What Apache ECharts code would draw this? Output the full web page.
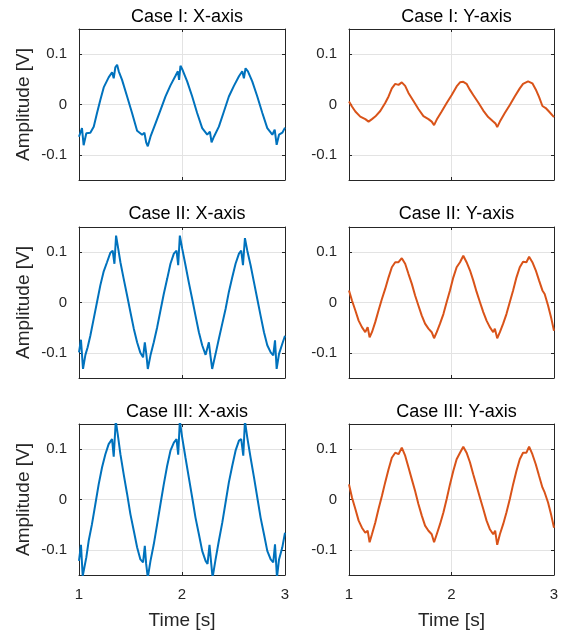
<!DOCTYPE html>
<html>
<head>
<meta charset="utf-8">
<script src="https://cdn.jsdelivr.net/npm/echarts@6/dist/echarts.min.js"></script>
<style>
html,body{margin:0;padding:0;background:#fff;}
#chart{width:565px;height:633px;}
</style>
</head>
<body>
<div id="chart"></div>
<script>
// ---- data: [time (s), amplitude (V)] ----
const titles = ['Case I: X-axis','Case I: Y-axis','Case II: X-axis','Case II: Y-axis','Case III: X-axis','Case III: Y-axis'];
const xTicks = [1, 2, 3];
const yTicks = [-0.1, 0, 0.1];

const case1X = [[1.000,-0.064],[1.029,-0.047],[1.045,-0.081],[1.071,-0.057],[1.110,-0.056],[1.143,-0.044],[1.175,-0.017],[1.207,0.009],[1.240,0.034],[1.288,0.054],[1.321,0.064],[1.337,0.052],[1.353,0.074],[1.370,0.079],[1.386,0.066],[1.418,0.049],[1.467,0.016],[1.515,-0.017],[1.564,-0.052],[1.613,-0.060],[1.635,-0.056],[1.652,-0.075],[1.668,-0.083],[1.694,-0.064],[1.742,-0.038],[1.791,-0.011],[1.840,0.016],[1.888,0.038],[1.937,0.057],[1.960,0.066],[1.972,0.049],[1.985,0.077],[2.005,0.069],[2.050,0.046],[2.099,0.016],[2.147,-0.017],[2.196,-0.047],[2.245,-0.060],[2.271,-0.054],[2.287,-0.075],[2.310,-0.064],[2.358,-0.044],[2.407,-0.014],[2.455,0.016],[2.504,0.037],[2.553,0.056],[2.585,0.066],[2.601,0.052],[2.617,0.072],[2.640,0.066],[2.682,0.046],[2.731,0.016],[2.780,-0.017],[2.828,-0.047],[2.877,-0.060],[2.900,-0.050],[2.919,-0.080],[2.942,-0.060],[2.974,-0.056],[3.000,-0.046]];

const case1Y = [[1.000,0.006],[1.029,-0.004],[1.062,-0.014],[1.110,-0.024],[1.159,-0.029],[1.191,-0.034],[1.224,-0.029],[1.256,-0.024],[1.305,-0.013],[1.353,0.003],[1.386,0.016],[1.418,0.032],[1.451,0.041],[1.483,0.039],[1.515,0.044],[1.548,0.037],[1.580,0.023],[1.629,0.007],[1.677,-0.009],[1.726,-0.023],[1.775,-0.029],[1.807,-0.034],[1.830,-0.041],[1.856,-0.030],[1.904,-0.014],[1.953,0.003],[2.002,0.019],[2.050,0.036],[2.083,0.044],[2.115,0.045],[2.147,0.041],[2.180,0.029],[2.212,0.019],[2.261,0.004],[2.310,-0.012],[2.358,-0.025],[2.407,-0.034],[2.430,-0.038],[2.446,-0.045],[2.472,-0.034],[2.520,-0.017],[2.569,-0.001],[2.617,0.016],[2.666,0.032],[2.698,0.041],[2.747,0.046],[2.789,0.042],[2.822,0.030],[2.854,0.015],[2.887,-0.003],[2.919,-0.007],[2.951,-0.014],[3.000,-0.025]];

const case2X = [[1.000,-0.099],[1.019,-0.074],[1.039,-0.132],[1.062,-0.104],[1.084,-0.089],[1.110,-0.066],[1.143,-0.032],[1.175,0.001],[1.207,0.034],[1.240,0.062],[1.272,0.080],[1.305,0.099],[1.327,0.103],[1.344,0.077],[1.360,0.133],[1.376,0.113],[1.402,0.080],[1.434,0.047],[1.467,0.014],[1.499,-0.019],[1.532,-0.052],[1.564,-0.079],[1.596,-0.100],[1.622,-0.109],[1.639,-0.079],[1.655,-0.105],[1.668,-0.132],[1.694,-0.105],[1.726,-0.079],[1.759,-0.049],[1.791,-0.016],[1.823,0.017],[1.856,0.047],[1.888,0.077],[1.921,0.097],[1.947,0.103],[1.963,0.074],[1.979,0.133],[2.002,0.107],[2.034,0.074],[2.066,0.040],[2.099,0.007],[2.131,-0.026],[2.164,-0.059],[2.196,-0.085],[2.229,-0.104],[2.261,-0.079],[2.277,-0.107],[2.293,-0.132],[2.326,-0.102],[2.358,-0.072],[2.391,-0.042],[2.423,-0.013],[2.455,0.021],[2.488,0.050],[2.520,0.077],[2.553,0.097],[2.575,0.103],[2.592,0.074],[2.611,0.128],[2.634,0.103],[2.666,0.074],[2.699,0.040],[2.731,0.007],[2.763,-0.026],[2.796,-0.059],[2.828,-0.085],[2.861,-0.099],[2.886,-0.105],[2.903,-0.075],[2.919,-0.132],[2.942,-0.102],[2.974,-0.082],[3.000,-0.066]];

const case2Y = [[1.000,0.024],[1.029,0.004],[1.062,-0.016],[1.094,-0.036],[1.126,-0.049],[1.159,-0.059],[1.182,-0.049],[1.201,-0.069],[1.224,-0.059],[1.256,-0.039],[1.288,-0.016],[1.321,0.007],[1.353,0.027],[1.386,0.050],[1.418,0.070],[1.451,0.080],[1.483,0.080],[1.515,0.088],[1.548,0.077],[1.580,0.057],[1.613,0.037],[1.645,0.014],[1.677,-0.006],[1.710,-0.026],[1.742,-0.042],[1.775,-0.052],[1.807,-0.059],[1.830,-0.071],[1.856,-0.059],[1.888,-0.042],[1.921,-0.023],[1.953,0.001],[1.985,0.024],[2.018,0.050],[2.050,0.070],[2.083,0.080],[2.115,0.093],[2.147,0.080],[2.180,0.064],[2.212,0.044],[2.245,0.021],[2.277,0.001],[2.310,-0.019],[2.342,-0.036],[2.374,-0.049],[2.407,-0.059],[2.423,-0.052],[2.446,-0.071],[2.472,-0.059],[2.504,-0.042],[2.536,-0.023],[2.569,0.001],[2.601,0.024],[2.634,0.050],[2.666,0.070],[2.698,0.081],[2.731,0.080],[2.757,0.091],[2.789,0.080],[2.822,0.064],[2.854,0.044],[2.887,0.024],[2.909,0.017],[2.942,-0.006],[2.974,-0.032],[3.000,-0.056]];

const case3X = [[1.000,-0.122],[1.019,-0.090],[1.036,-0.152],[1.052,-0.135],[1.071,-0.115],[1.094,-0.082],[1.126,-0.049],[1.159,-0.009],[1.191,0.030],[1.224,0.064],[1.256,0.090],[1.288,0.110],[1.321,0.120],[1.337,0.085],[1.357,0.156],[1.376,0.130],[1.402,0.090],[1.434,0.050],[1.467,0.011],[1.499,-0.029],[1.532,-0.062],[1.564,-0.095],[1.596,-0.119],[1.622,-0.125],[1.639,-0.092],[1.652,-0.128],[1.668,-0.155],[1.694,-0.122],[1.726,-0.089],[1.759,-0.049],[1.791,-0.009],[1.823,0.030],[1.856,0.067],[1.888,0.097],[1.921,0.113],[1.947,0.120],[1.963,0.089],[1.979,0.156],[2.002,0.123],[2.034,0.083],[2.066,0.044],[2.099,0.004],[2.131,-0.036],[2.164,-0.069],[2.196,-0.102],[2.229,-0.122],[2.248,-0.128],[2.267,-0.090],[2.284,-0.128],[2.297,-0.155],[2.326,-0.119],[2.358,-0.082],[2.391,-0.046],[2.423,-0.006],[2.455,0.034],[2.488,0.067],[2.520,0.097],[2.553,0.117],[2.575,0.120],[2.595,0.087],[2.611,0.156],[2.634,0.123],[2.666,0.083],[2.699,0.044],[2.731,0.004],[2.763,-0.036],[2.796,-0.069],[2.828,-0.102],[2.861,-0.119],[2.886,-0.125],[2.903,-0.089],[2.922,-0.155],[2.942,-0.119],[2.974,-0.095],[3.000,-0.066]];

const case3Y = [[1.000,0.030],[1.029,0.004],[1.062,-0.019],[1.094,-0.042],[1.126,-0.056],[1.159,-0.066],[1.182,-0.062],[1.201,-0.085],[1.224,-0.069],[1.256,-0.046],[1.288,-0.019],[1.321,0.007],[1.353,0.034],[1.386,0.060],[1.418,0.083],[1.451,0.093],[1.483,0.090],[1.515,0.103],[1.548,0.087],[1.580,0.064],[1.613,0.040],[1.645,0.017],[1.677,-0.009],[1.710,-0.032],[1.742,-0.052],[1.775,-0.062],[1.807,-0.069],[1.830,-0.085],[1.856,-0.069],[1.888,-0.049],[1.921,-0.026],[1.953,0.001],[1.985,0.030],[2.018,0.057],[2.050,0.080],[2.083,0.093],[2.115,0.105],[2.147,0.093],[2.180,0.074],[2.212,0.050],[2.245,0.027],[2.277,0.004],[2.310,-0.019],[2.342,-0.042],[2.374,-0.059],[2.407,-0.069],[2.426,-0.062],[2.446,-0.090],[2.472,-0.069],[2.504,-0.049],[2.536,-0.026],[2.569,0.001],[2.601,0.030],[2.634,0.057],[2.666,0.080],[2.698,0.093],[2.731,0.093],[2.757,0.105],[2.789,0.090],[2.822,0.070],[2.854,0.047],[2.887,0.024],[2.909,0.014],[2.942,-0.006],[2.974,-0.032],[3.000,-0.056]];

const seriesData = [case1X, case1Y, case2X, case2Y, case3X, case3Y];
const seriesColors = ['#0072BD', '#D95319'];

// ---- layout ----
const FONT = '"Liberation Sans", Arial, Helvetica, sans-serif';
const INK = '#262626';
const GRIDC = '#e3e3e3';
const colLeft = [79, 349];
const colWidth = [206, 205];
const rowTop = [29, 227, 424];
const rowHeight = 151;
const titleTop = [3, 200, 398];

const grids = [], xAxes = [], yAxes = [], series = [], titleList = [];
for (let i = 0; i < 6; i++) {
  const r = Math.floor(i / 2), c = i % 2;
  grids.push({left: colLeft[c], top: rowTop[r], width: colWidth[c], height: rowHeight, containLabel: false});
  titleList.push({
    text: titles[i], left: colLeft[c] + colWidth[c] / 2, top: titleTop[r], textAlign: 'center',
    textStyle: {fontFamily: FONT, fontSize: 18, fontWeight: 'normal', color: '#000'}
  });
  const bottomRow = r === 2;
  xAxes.push({
    type: 'value', gridIndex: i, position: 'bottom', min: xTicks[0], max: xTicks[xTicks.length - 1], interval: 1,
    axisLine: {show: true, onZero: false, lineStyle: {color: INK, width: 1}},
    axisTick: {show: true, inside: true, length: 3, lineStyle: {color: INK}},
    axisLabel: {show: bottomRow, margin: 12, fontFamily: FONT, fontSize: 15, color: INK},
    splitLine: {show: true, lineStyle: {color: GRIDC, width: 1}},
    name: bottomRow ? 'Time [s]' : '', nameLocation: 'middle', nameGap: 36,
    nameTextStyle: {fontFamily: FONT, fontSize: 19, color: INK}
  });
  xAxes.push({
    type: 'value', gridIndex: i, position: 'top', min: xTicks[0], max: xTicks[xTicks.length - 1], interval: 1,
    axisLine: {show: true, onZero: false, lineStyle: {color: INK, width: 1}},
    axisTick: {show: true, inside: true, length: 3, lineStyle: {color: INK}},
    axisLabel: {show: false}, splitLine: {show: false}
  });
  yAxes.push({
    type: 'value', gridIndex: i, position: 'left', min: -0.15, max: 0.15,
    axisLine: {show: true, onZero: false, lineStyle: {color: INK, width: 1}},
    axisTick: {show: true, inside: true, length: 3, lineStyle: {color: INK}, customValues: yTicks},
    axisLabel: {show: true, customValues: yTicks, margin: 12, fontFamily: FONT, fontSize: 15, color: INK,
      formatter: v => (Math.abs(v) < 1e-9 ? '0' : v.toFixed(1))},
    splitLine: {show: true, lineStyle: {color: GRIDC, width: 1}},
    name: c === 0 ? 'Amplitude [V]' : '', nameLocation: 'middle', nameGap: 46,
    nameTextStyle: {fontFamily: FONT, fontSize: 19, color: INK}
  });
  yAxes.push({
    type: 'value', gridIndex: i, position: 'right', min: -0.15, max: 0.15,
    axisLine: {show: true, onZero: false, lineStyle: {color: INK, width: 1}},
    axisTick: {show: true, inside: true, length: 3, lineStyle: {color: INK}, customValues: yTicks},
    axisLabel: {show: false}, splitLine: {show: false}
  });
  series.push({
    type: 'line', xAxisIndex: i * 2, yAxisIndex: i * 2, data: seriesData[i],
    showSymbol: false, symbol: 'none', clip: true, animation: false,
    lineStyle: {color: seriesColors[c], width: 2}, z: 3
  });
}

const chart = echarts.init(document.getElementById('chart'), null, {renderer: 'canvas'});
chart.setOption({
  animation: false,
  backgroundColor: '#fff',
  title: titleList,
  grid: grids,
  xAxis: xAxes,
  yAxis: yAxes,
  series: series
});
</script>
</body>
</html>
